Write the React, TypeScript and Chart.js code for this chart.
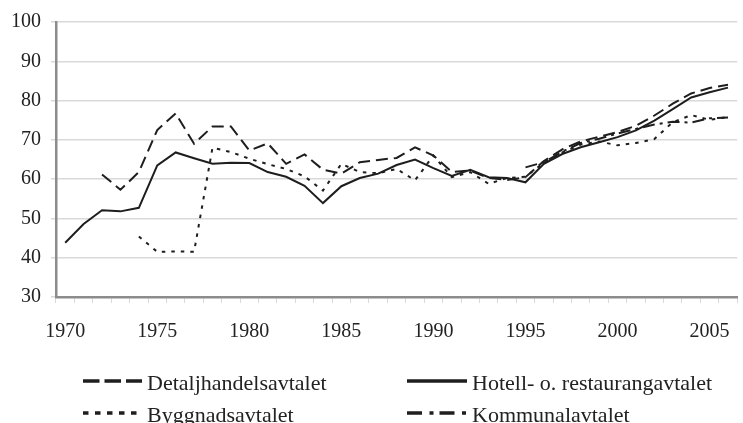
import React, { useEffect, useRef } from 'react';
import { Chart, registerables } from 'chart.js';

Chart.register(...registerables);

const years = [
  '1970', '1971', '1972', '1973', '1974', '1975', '1976', '1977', '1978', '1979',
  '1980', '1981', '1982', '1983', '1984', '1985', '1986', '1987', '1988', '1989',
  '1990', '1991', '1992', '1993', '1994', '1995', '1996', '1997', '1998', '1999',
  '2000', '2001', '2002', '2003', '2004', '2005', '2006',
];

const detaljhandel = [
  null, null, 61.2, 57.3, 61.8, 72.5, 76.7, 69.0, 73.4, 73.4,
  67.3, 69.1, 63.9, 66.3, 62.4, 61.4, 64.3, 64.9, 65.4, 68.1,
  66.0, 61.8, 62.2, 60.3, 59.8, 60.5, 64.6, 67.6, 69.6, 70.8,
  72.0, 73.6, 76.2, 79.2, 81.8, 83.2, 84.0,
];

const hotell = [
  43.8, 48.6, 52.1, 51.8, 52.7, 63.5, 66.8, 65.3, 63.9, 64.2,
  64.1, 61.8, 60.6, 58.3, 53.9, 58.2, 60.3, 61.4, 63.6, 65.0,
  62.8, 60.8, 62.4, 60.5, 60.3, 59.2, 63.9, 66.4, 68.1, 69.4,
  70.7, 72.4, 74.9, 77.8, 80.8, 82.1, 83.3,
];

const byggnad = [
  null, null, null, null, 45.4, 41.5, 41.6, 41.5, 68.0, 66.9,
  65.2, 63.8, 62.6, 60.7, 57.1, 63.9, 61.8, 61.5, 62.6, 59.7,
  66.0, 60.5, 61.8, 58.8, 60.3, 60.6, 64.2, 66.8, 68.8, 69.6,
  68.6, 69.2, 70.2, 74.5, 76.3, 75.1, 75.8,
];

const kommunal = [
  null, null, null, null, null, null, null, null, null, null,
  null, null, null, null, null, null, null, null, null, null,
  null, null, null, null, null, 63.0, 64.3, 67.0, 69.2, 70.3,
  71.6, 72.8, 73.9, 74.6, 74.4, 75.5, 75.7,
];

const seriesLabels = [
  'Detaljhandelsavtalet',
  'Hotell- o. restaurangavtalet',
  'Byggnadsavtalet',
  'Kommunalavtalet',
];

const yTicks = [30, 40, 50, 60, 70, 80, 90, 100];

const LINE_COLOR = '#1e1e1e';
const GRID_COLOR = '#d9d9d9';
const AXIS_COLOR = '#8c8c8c';
const FONT = '"Liberation Serif", "Times New Roman", serif';

const LEGEND_COL_X = [83, 407];
const LEGEND_SAMPLE_LEN = [59, 60];
const LEGEND_ROW_Y = [381, 413];

const gridLegend = {
  id: 'gridLegend',
  afterDraw(chart: any) {
    const ctx = chart.ctx;
    chart.data.datasets.forEach((ds: any, i: number) => {
      const col = i % 2;
      const row = Math.floor(i / 2);
      const x0 = LEGEND_COL_X[col];
      const len = LEGEND_SAMPLE_LEN[col];
      const y = LEGEND_ROW_Y[row];
      ctx.save();
      ctx.strokeStyle = ds.borderColor;
      ctx.lineWidth = 3.5;
      ctx.lineCap = 'butt';
      ctx.setLineDash(ds.legendDash || []);
      ctx.beginPath();
      ctx.moveTo(x0, y);
      ctx.lineTo(x0 + len, y);
      ctx.stroke();
      ctx.setLineDash([]);
      ctx.fillStyle = '#222';
      ctx.font = `22px ${FONT}`;
      ctx.textBaseline = 'alphabetic';
      ctx.textAlign = 'left';
      ctx.fillText(ds.label, x0 + len + 5, y + 9);
      ctx.restore();
    });
  },
};

export default function App() {
  const canvasRef = useRef<HTMLCanvasElement | null>(null);

  useEffect(() => {
    const canvas = canvasRef.current;
    if (!canvas) return;
    const common = {
      borderColor: LINE_COLOR,
      borderWidth: 2,
      pointRadius: 0,
      pointHoverRadius: 0,
      tension: 0,
      fill: false,
      spanGaps: false,
    };
    const chart = new Chart(canvas, {
      type: 'line',
      data: {
        labels: years,
        datasets: [
          { ...common, label: seriesLabels[0], data: detaljhandel, borderDash: [12, 6], legendDash: [16.5, 5] } as any,
          { ...common, label: seriesLabels[1], data: hotell, borderDash: [], legendDash: [] } as any,
          { ...common, label: seriesLabels[2], data: byggnad, borderDash: [3.5, 6], legendDash: [5.5, 6.5] } as any,
          { ...common, label: seriesLabels[3], data: kommunal, borderDash: [12, 5, 3, 5], legendDash: [15, 7.5, 4, 6] } as any,
        ],
      },
      options: {
        animation: false,
        responsive: false,
        maintainAspectRatio: false,
        layout: { padding: { top: 21, left: 0, right: 0, bottom: 76 } },
        plugins: {
          legend: { display: false },
          tooltip: { enabled: false },
          title: { display: false },
        },
        scales: {
          x: {
            type: 'category',
            offset: true,
            grid: {
              display: true,
              drawOnChartArea: false,
              drawTicks: true,
              tickLength: 6,
              tickColor: GRID_COLOR,
              offset: true,
            },
            border: { display: true, color: AXIS_COLOR, width: 2.5 },
            ticks: {
              autoSkip: false,
              maxRotation: 0,
              minRotation: 0,
              padding: 17,
              color: '#222',
              font: { family: FONT, size: 20 },
              callback: function (this: any, _v: any, index: number) {
                const y = years[index];
                return Number(y) % 5 === 0 ? y : '';
              },
            },
            afterFit: (scale: any) => {
              scale.height = 50;
            },
          },
          y: {
            min: yTicks[0],
            max: yTicks[yTicks.length - 1],
            afterBuildTicks: (scale: any) => {
              scale.ticks = yTicks.map((v) => ({ value: v }));
            },
            grid: {
              color: GRID_COLOR,
              lineWidth: 1.5,
              drawTicks: true,
              tickLength: 5,
              tickColor: GRID_COLOR,
            },
            border: { display: true, color: AXIS_COLOR, width: 2.5 },
            ticks: {
              padding: 10,
              color: '#222',
              font: { family: FONT, size: 20 },
            },
            afterFit: (scale: any) => {
              scale.width = 56;
            },
          },
        },
      },
      plugins: [gridLegend],
    } as any);
    return () => chart.destroy();
  }, []);

  return (
    <div style={{ position: 'absolute', left: 0, top: 0, width: 743, height: 423, overflow: 'hidden', background: '#fff' }}>
      <canvas ref={canvasRef} width={745} height={423} style={{ display: 'block', width: 745, height: 423 }} />
    </div>
  );
}
